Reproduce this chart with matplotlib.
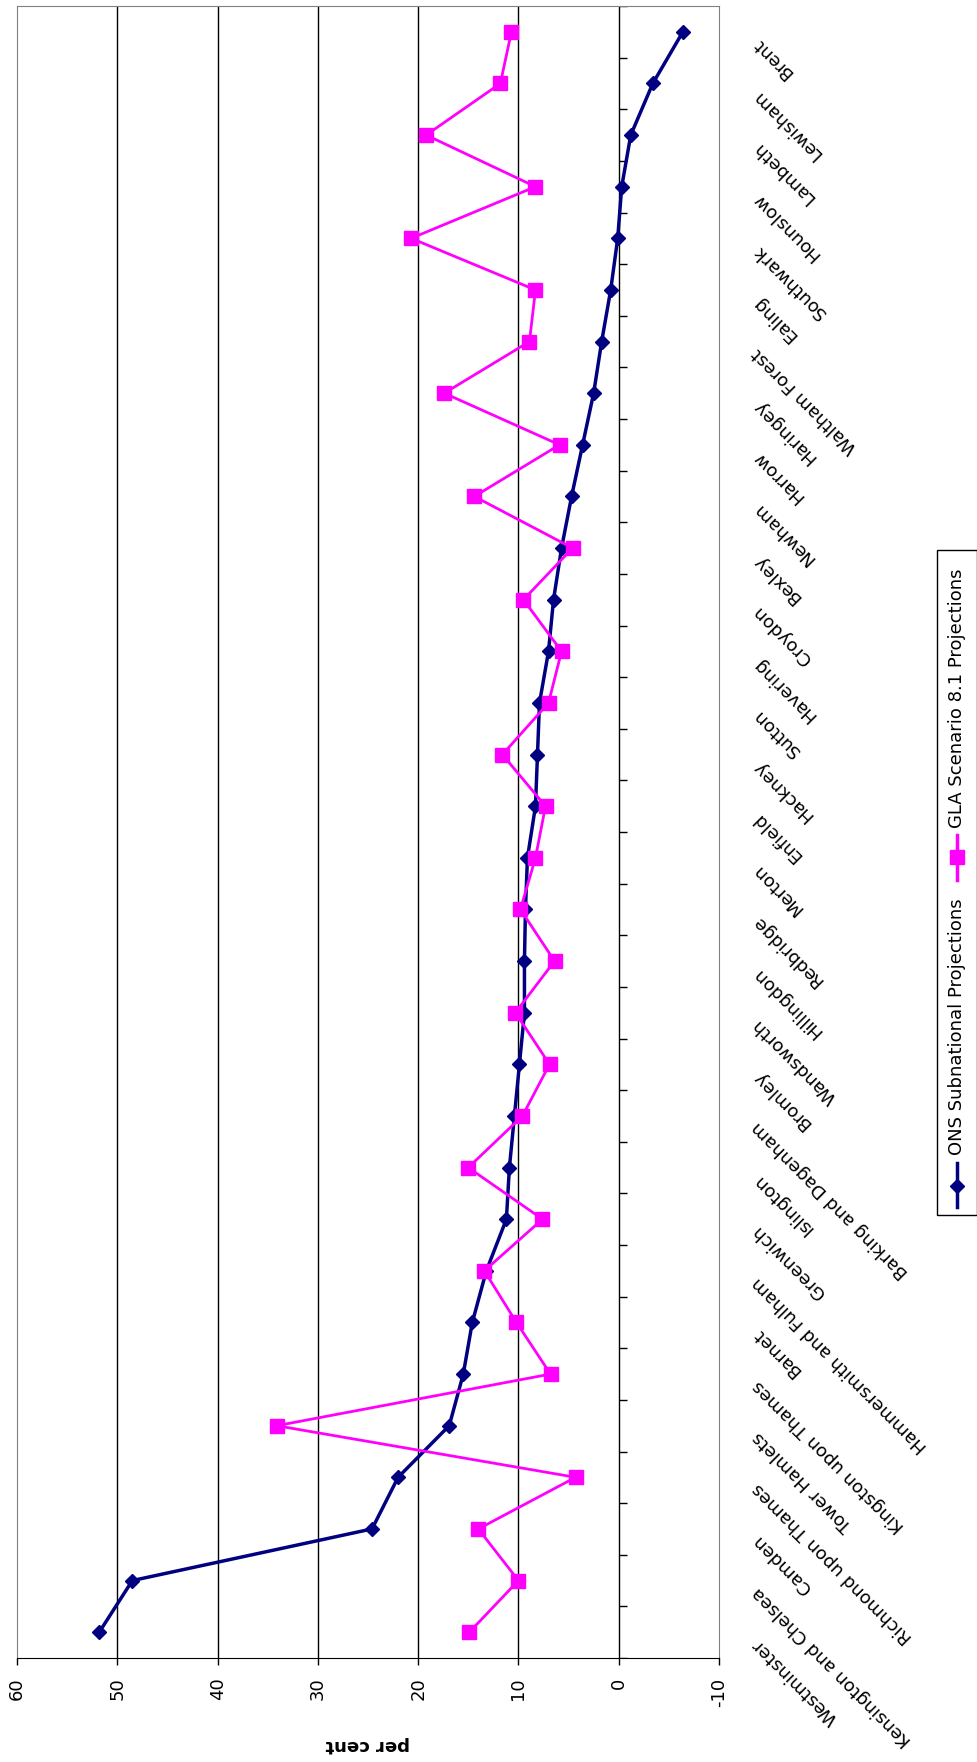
import numpy as np
import matplotlib
matplotlib.use('Agg')
import matplotlib.pyplot as plt
from matplotlib.lines import Line2D
from matplotlib.patches import Rectangle

plt.rcParams['font.family'] = ['DejaVu Sans']
plt.rcParams['axes.unicode_minus'] = False

# boroughs from the bottom of the rotated chart to the top
boroughs = ['Westminster', 'Kensington and Chelsea', 'Camden', 'Richmond upon Thames',
            'Tower Hamlets', 'Kingston upon Thames', 'Barnet', 'Hammersmith and Fulham',
            'Greenwich', 'Islington', 'Barking and Dagenham', 'Bromley', 'Wandsworth',
            'Hillingdon', 'Redbridge', 'Merton', 'Enfield', 'Hackney', 'Sutton',
            'Havering', 'Croydon', 'Bexley', 'Newham', 'Harrow', 'Haringey',
            'Waltham Forest', 'Ealing', 'Southwark', 'Hounslow', 'Lambeth',
            'Lewisham', 'Brent']
ons = [51.8, 48.5, 24.6, 22.0, 16.9, 15.5, 14.6, 13.2, 11.2, 10.9, 10.4, 9.9, 9.4,
       9.4, 9.3, 9.1, 8.3, 8.1, 7.9, 7.0, 6.5, 5.7, 4.7, 3.6, 2.5, 1.7, 0.8, 0.1,
       -0.3, -1.2, -3.4, -6.4]
gla = [14.9, 10.0, 14.0, 4.3, 34.1, 6.8, 10.2, 13.4, 7.6, 15.0, 9.6, 6.9, 10.3,
       6.4, 9.8, 8.3, 7.3, 11.6, 7.0, 5.7, 9.5, 4.6, 14.4, 5.9, 17.4, 8.9, 8.3,
       20.7, 8.3, 19.2, 11.8, 10.7]
value_ticks = [60, 50, 40, 30, 20, 10, 0, -10]
series_names = ['ONS Subnational Projections', 'GLA Scenario 8.1 Projections']

W, H = 978, 1762
ONS_COL = '#000080'
GLA_COL = '#ff00ff'
GREY = '#808080'

fig = plt.figure(figsize=(W / 100, H / 100), dpi=100)
ax = fig.add_axes([17 / W, 1 - 1658 / H, (719 - 17) / W, (1658 - 6) / H])

pos = np.arange(len(boroughs))

# gridlines and the category axis (drawn at zero)
for v in value_ticks[1:-2]:
    ax.axvline(v, color='black', lw=1, zorder=0.5)
ax.axvline(0, color='black', lw=1, zorder=1)
ax.hlines(np.arange(len(boroughs) + 1) - 0.5, 0, -0.8, color='black', lw=1, zorder=1)

ax.plot(ons, pos, color=ONS_COL, lw=2.5, marker='D', ms=7.5, zorder=3)
ax.plot(gla, pos, color=GLA_COL, lw=2, marker='s', ms=10.5, zorder=4)

ax.set_xlim(60, -10)
ax.set_ylim(-0.5, len(boroughs) - 0.5)
ax.set_xticks(value_ticks)
ax.set_yticks([])
ax.tick_params(axis='x', direction='out', length=5, width=1, pad=9,
               labelsize=13, labelrotation=90)

for side in ['left', 'right', 'top']:
    ax.spines[side].set_color(GREY)
ax.spines['bottom'].set_color('black')

ax.set_xlabel('per cent', fontsize=13, fontweight='bold', rotation=180)
ax.xaxis.set_label_coords(0.5, -0.0527)
ax.xaxis.label.set_va('center')

# angled category labels beside the plot (upside down, as in the turned chart)
for i, name in enumerate(boroughs):
    ax.annotate(name, xy=(1, i), xycoords=('axes fraction', 'data'),
                xytext=(26, -6.5), textcoords='offset points',
                rotation=135, rotation_mode='anchor', ha='right', va='center',
                fontsize=13)

# legend, turned on its side like the rest of the chart
def fx(x):
    return x / W

def fy(y):
    return 1 - y / H

fig.add_artist(Rectangle((fx(937), fy(1215)), fx(977) - fx(937), fy(550) - fy(1215),
                         transform=fig.transFigure, facecolor='white',
                         edgecolor='black', lw=1))
for (y0, y1, ym, ty), col, mk, ms, name in [
        ((1207, 1163, 1186, 1155), ONS_COL, 'D', 7.5, series_names[0]),
        ((880, 835, 857, 828), GLA_COL, 's', 10.5, series_names[1])]:
    fig.add_artist(Line2D([fx(957), fx(957)], [fy(y0), fy(y1)],
                          transform=fig.transFigure, color=col, lw=2.5))
    fig.add_artist(Line2D([fx(957)], [fy(ym)], transform=fig.transFigure,
                          color=col, marker=mk, ms=ms, lw=0))
    fig.text(fx(957), fy(ty), name, rotation=90, rotation_mode='anchor',
             ha='left', va='center', fontsize=13)

fig.savefig('out.png', dpi=100)
